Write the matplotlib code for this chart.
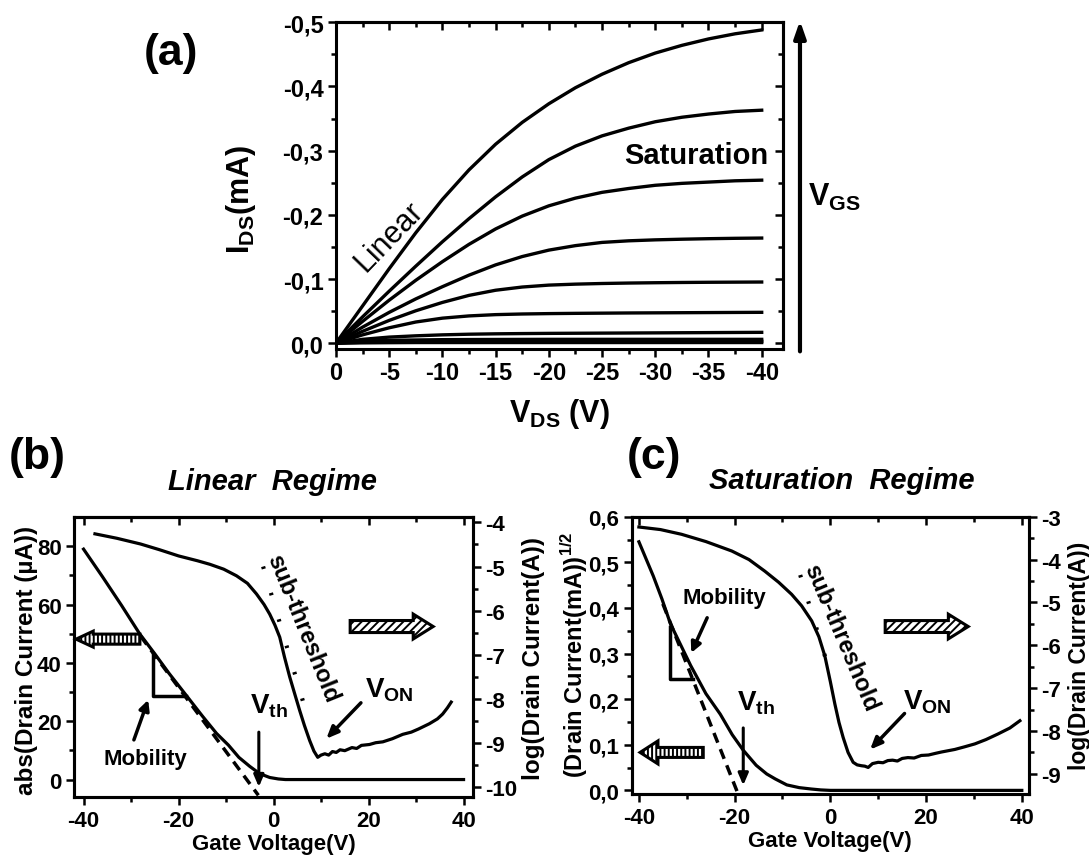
import numpy as np
import matplotlib.pyplot as plt
from matplotlib.patches import FancyArrow

plt.rcParams['font.family'] = ['Liberation Sans', 'DejaVu Sans']
plt.rcParams['font.weight'] = 'bold'
plt.rcParams['axes.labelweight'] = 'bold'
plt.rcParams['mathtext.fontset'] = 'custom'
plt.rcParams['mathtext.rm'] = 'Liberation Sans:bold'
plt.rcParams['mathtext.bf'] = 'Liberation Sans:bold'
plt.rcParams['axes.linewidth'] = 2.2
plt.rcParams['hatch.linewidth'] = 1.4

# (a) output curves, I_DS (mA) against V_DS (V), one list per gate voltage
vds = [0, -2.5, -5, -7.5, -10, -12.5, -15, -17.5, -20, -22.5, -25, -27.5, -30, -32.5, -35, -37.5, -40]
ids_1 = [0, -0.058, -0.116, -0.172, -0.224, -0.270, -0.310, -0.344, -0.373, -0.398, -0.419, -0.437, -0.452, -0.464, -0.474, -0.482, -0.488]
ids_2 = [0, -0.041, -0.081, -0.120, -0.158, -0.194, -0.228, -0.259, -0.286, -0.307, -0.323, -0.335, -0.345, -0.352, -0.357, -0.361, -0.363]
ids_3 = [0, -0.034, -0.067, -0.098, -0.127, -0.154, -0.178, -0.198, -0.214, -0.226, -0.235, -0.241, -0.246, -0.249, -0.251, -0.253, -0.254]
ids_4 = [0, -0.025, -0.048, -0.069, -0.088, -0.106, -0.122, -0.135, -0.145, -0.152, -0.157, -0.1595, -0.161, -0.162, -0.1628, -0.1634, -0.1638]
ids_5 = [0, -0.0185, -0.0355, -0.0505, -0.0635, -0.0745, -0.0825, -0.0875, -0.0905, -0.092, -0.093, -0.0937, -0.0942, -0.0946, -0.0949, -0.0951, -0.0953]
ids_6 = [0, -0.013, -0.024, -0.033, -0.039, -0.0425, -0.0445, -0.0455, -0.0461, -0.0465, -0.0468, -0.0471, -0.0473, -0.0475, -0.0477, -0.0479, -0.0481]
ids_7 = [0, -0.006, -0.0095, -0.0115, -0.013, -0.014, -0.0146, -0.015, -0.0153, -0.0155, -0.0157, -0.0159, -0.0161, -0.0163, -0.0165, -0.0167, -0.0169]
ids_8 = [0, -0.003, -0.0045, -0.005, -0.0055, -0.0057, -0.0058, -0.0059, -0.006, -0.006, -0.006, -0.006, -0.006, -0.006, -0.006, -0.006, -0.006]
ids_9 = [0, -0.0015, -0.0022, -0.0026, -0.0028, -0.0029, -0.003, -0.003, -0.003, -0.003, -0.003, -0.003, -0.003, -0.003, -0.003, -0.003, -0.003]
ids_10 = [0, -0.0005, -0.0008, -0.001, -0.001, -0.001, -0.001, -0.001, -0.001, -0.001, -0.001, -0.001, -0.001, -0.001, -0.001, -0.001, -0.001]

a_xticks = [0, -5, -10, -15, -20, -25, -30, -35, -40]
a_xlabels = ['0', '-5', '-10', '-15', '-20', '-25', '-30', '-35', '-40']
a_yticks = [0, -0.1, -0.2, -0.3, -0.4, -0.5]
a_ylabels = ['0,0', '-0,1', '-0,2', '-0,3', '-0,4', '-0,5']

# (b) linear regime transfer curve
vg_b_lin = [-40, -36, -32, -28.2, -25, -22, -18.3, -15, -12, -9.5, -7.3, -5, -2.9, -0.8, 1, 2.5, 5, 10, 20, 30, 40]
id_b_lin = [79, 69.5, 59.7, 50, 43.1, 36.4, 28.7, 21.8, 15.8, 11.8, 7.6, 4.5, 2.0, 0.7, 0.2, 0, 0, 0, 0, 0, 0]
vg_b_log = [-37.6, -33, -28, -24, -20, -16, -13.4, -10.5, -7.8, -5.5, -3.6, -2, -0.8, 0.3, 1.3, 2.3, 3.4,
            4.5, 5.5, 6.5, 7.6, 8.5, 9.3, 10, 10.8, 11.6, 12.4, 13.2, 14, 15, 16.5, 17.5, 18.5, 20.2,
            21.5, 23, 25, 27.2, 29, 30.5, 32.8, 34.5, 35.6, 36.6, 37.4]
logid_b = [-4.26, -4.36, -4.49, -4.62, -4.76, -4.87, -4.95, -5.06, -5.21, -5.38, -5.62, -5.86, -6.08, -6.33, -6.6, -7.05, -7.5,
           -7.9, -8.26, -8.6, -8.94, -9.18, -9.32, -9.27, -9.24, -9.27, -9.19, -9.21, -9.15, -9.17, -9.1, -9.12, -9.05, -9.03,
           -8.99, -8.97, -8.9, -8.8, -8.75, -8.68, -8.56, -8.45, -8.34, -8.2, -8.07]
b_tangent_v = [-28, -3.2]
b_tangent_i = [49.2, -5.4]
b_sub_v = [-2.2, 6.6]
b_sub_log = [-5.0, -8.2]

# (c) saturation regime transfer curve
vg_c_sqrt = [-40, -37, -35.2, -33.4, -31, -29.2, -26, -23, -20.5, -18.2, -15.5, -13.3, -11.5, -9.1, -6.5, -4, -2, 0, 5, 10, 20, 30, 40]
sqrt_c = [0.545, 0.47, 0.42, 0.365, 0.313, 0.274, 0.212, 0.167, 0.122, 0.088, 0.055, 0.036, 0.025, 0.012, 0.006, 0.003, 0.001, 0, 0, 0, 0, 0, 0]
vg_c_log = [-40, -35.5, -31.1, -26, -20.6, -17, -13.7, -10.8, -8.1, -6, -3.9, -2.4, -1.15, 0, 0.94, 1.8, 2.67, 3.7,
            4.76, 5.6, 6.5, 7.2, 7.9, 8.8, 10, 11, 12, 13, 14, 15, 16.2, 17.5, 19, 20.5, 22, 23.2, 26, 28,
            30.2, 32.5, 35, 37.5, 39.6]
logid_c = [-3.24, -3.3, -3.41, -3.58, -3.8, -4.0, -4.27, -4.53, -4.81, -5.08, -5.43, -5.8, -6.25, -6.85, -7.37, -7.8, -8.15, -8.5,
           -8.73, -8.79, -8.81, -8.82, -8.85, -8.76, -8.73, -8.74, -8.69, -8.68, -8.7, -8.64, -8.62, -8.63, -8.57, -8.56, -8.52, -8.49, -8.43, -8.37,
           -8.3, -8.2, -8.07, -7.93, -7.76]
c_tangent_v = [-35, -19.2]
c_tangent_i = [0.409, -0.010]
c_sub_v = [-6.3, -1.0]
c_sub_log = [-4.36, -6.3]

gate_ticks = [-40, -20, 0, 20, 40]
gate_labels = ['-40', '-20', '0', '20', '40']
b_left_ticks = [0, 20, 40, 60, 80]
b_right_ticks = [-4, -5, -6, -7, -8, -9, -10]
c_left_ticks = [0, 0.1, 0.2, 0.3, 0.4, 0.5, 0.6]
c_left_labels = ['0,0', '0,1', '0,2', '0,3', '0,4', '0,5', '0,6']
c_right_ticks = [-3, -4, -5, -6, -7, -8, -9]


def tick_style(ax, direction='out', size=16):
    ax.tick_params(which='major', direction=direction, length=6, width=1.8, labelsize=size, pad=3)
    ax.tick_params(which='minor', direction=direction, length=3.5, width=1.8)


def mirror_top(ax, major, minor):
    top = ax.secondary_xaxis('top')
    top.set_xticks(major)
    top.set_xticks(minor, minor=True)
    tick_style(top, 'in')
    top.tick_params(which='both', labeltop=False)
    return top


def block_arrow(ax, x0, x1, y, w, hw, hl, hatch):
    ax.add_patch(FancyArrow(x0, y, x1 - x0, 0, width=w, head_width=hw, head_length=hl,
                            length_includes_head=True, transform=ax.transAxes, facecolor='white',
                            edgecolor='k', hatch=hatch, lw=2.2, zorder=6, clip_on=False))


fig = plt.figure(figsize=(10.89, 8.62), dpi=100)

# ---------------- (a)
ax_a = fig.add_axes([0.3085, 0.594, 0.4105, 0.3794])
for ids in [ids_1, ids_2, ids_3, ids_4, ids_5, ids_6, ids_7, ids_8, ids_9, ids_10]:
    ax_a.plot(vds, ids, color='k', lw=2.4)
ax_a.set_xlim(0, -42)
ax_a.set_ylim(0.009, -0.5005)
ax_a.set_xticks(a_xticks, a_xlabels)
ax_a.set_xticks(np.arange(-2.5, -42, -5), minor=True)
ax_a.set_yticks(a_yticks, a_ylabels)
ax_a.set_yticks(np.arange(-0.05, -0.5, -0.1), minor=True)
tick_style(ax_a, size=17)
mirror_top(ax_a, a_xticks, np.arange(-2.5, -42, -5))
right_a = ax_a.secondary_yaxis('right')
right_a.set_yticks(a_yticks)
right_a.set_yticks(np.arange(-0.05, -0.5, -0.1), minor=True)
tick_style(right_a, 'in')
right_a.tick_params(which='both', labelright=False)
ax_a.set_xlabel(r'$\mathbf{V}_{\mathbf{DS}}$ (V)', fontsize=22, labelpad=8)
ax_a.set_ylabel(r'$\mathbf{I}_{\mathbf{DS}}$(mA)', fontsize=22)
ax_a.yaxis.set_label_coords(-0.175, 0.46)
ax_a.text(0.118, 0.345, 'Linear', transform=ax_a.transAxes, fontsize=22, fontweight='normal',
          rotation=46, ha='center', va='center')
ax_a.text(0.807, 0.594, 'Saturation', transform=ax_a.transAxes, fontsize=21,
          ha='center', va='center')
fig.text(0.1566, 0.9374, '(a)', fontsize=32, ha='center', va='center')
ax_a.annotate('', xy=(0.7346, 0.978), xytext=(0.7346, 0.588), xycoords='figure fraction',
              textcoords='figure fraction', annotation_clip=False,
              arrowprops=dict(arrowstyle='-|>,head_length=1.0,head_width=0.35', lw=3, color='k'))
fig.text(0.742, 0.7715, r'$\mathbf{V}_{\mathbf{GS}}$', fontsize=22, ha='left', va='center')

# ---------------- (b)
ax_b = fig.add_axes([0.068, 0.0742, 0.3664, 0.3248])
ax_b.plot(vg_b_lin, id_b_lin, color='k', lw=2.3)
ax_b.plot(b_tangent_v, b_tangent_i, color='k', lw=2.5, ls=(0, (3, 2)))
ax_b.set_xlim(-42, 42)
ax_b.set_ylim(-6, 90)
ax_b.set_xticks(gate_ticks, gate_labels)
ax_b.set_xticks([-30, -10, 10, 30], minor=True)
ax_b.set_yticks(b_left_ticks)
ax_b.set_yticks([10, 30, 50, 70], minor=True)
tick_style(ax_b)
mirror_top(ax_b, gate_ticks, [-30, -10, 10, 30])
ax_b.set_xlabel('Gate Voltage(V)', fontsize=16, labelpad=2)
ax_b.set_ylabel('abs(Drain Current (\u00b5A))', fontsize=17.5)
ax_b.yaxis.set_label_coords(-0.09, 0.49)
ax_b2 = ax_b.twinx()
ax_b2.plot(vg_b_log, logid_b, color='k', lw=2.3)
ax_b2.plot(b_sub_v, b_sub_log, color='k', lw=3, ls=(0, (0.6, 6)))
ax_b2.set_ylim(-10.22, -3.88)
ax_b2.set_yticks(b_right_ticks, [str(t) for t in b_right_ticks])
ax_b2.set_yticks(np.arange(-4.5, -10.2, -1), minor=True)
tick_style(ax_b2)
ax_b2.set_ylabel('log(Drain Current(A))', fontsize=17.5, labelpad=3)

# triangle, arrows and labels
ax_b.plot([-25.4, -25.4, -18.4], [43, 28.7, 28.7], color='k', lw=2.5)
ax_b.annotate('', xy=(-26.2, 28.2), xytext=(-29.6, 12.7),
              arrowprops=dict(arrowstyle='-|>,head_length=0.6,head_width=0.3', lw=2.5, color='k'))
ax_b.text(0.18, 0.136, 'Mobility', transform=ax_b.transAxes, fontsize=16, ha='center', va='center')
ax_b.annotate('', xy=(-3.1, -3.5), xytext=(-3.1, 17.2),
              arrowprops=dict(arrowstyle='-|>,head_length=0.7,head_width=0.3', lw=2.2, color='k'))
ax_b.text(0.441, 0.329, r'$\mathbf{V}_{\mathbf{th}}$', transform=ax_b.transAxes, fontsize=20, ha='left', va='center')
ax_b.annotate('', xy=(10.7, 13.3), xytext=(18.8, 27.0),
              arrowprops=dict(arrowstyle='-|>,head_length=0.7,head_width=0.3', lw=2.5, color='k'))
ax_b.text(0.729, 0.386, r'$\mathbf{V}_{\mathbf{ON}}$', transform=ax_b.transAxes, fontsize=20, ha='left', va='center')
ax_b.text(0.574, 0.606, 'sub-threshold', transform=ax_b.transAxes, fontsize=17,
          rotation=-68, ha='center', va='center')
block_arrow(ax_b2, 0.165, 0.005, 0.564, 0.036, 0.057, 0.043, '||||')
block_arrow(ax_b2, 0.692, 0.90, 0.609, 0.043, 0.089, 0.05, '////')
fig.text(0.034, 0.4698, '(b)', fontsize=32, ha='center', va='center')
fig.text(0.2498, 0.4408, 'Linear  Regime', fontsize=21, style='italic', ha='center', va='center')

# ---------------- (c)
ax_c = fig.add_axes([0.5801, 0.0777, 0.3648, 0.3217])
ax_c.plot(vg_c_sqrt, sqrt_c, color='k', lw=2.3)
ax_c.plot(c_tangent_v, c_tangent_i, color='k', lw=2.5, ls=(0, (3, 2)))
ax_c.set_xlim(-41.5, 41.5)
ax_c.set_ylim(-0.008, 0.6)
ax_c.set_xticks(gate_ticks, gate_labels)
ax_c.set_xticks([-30, -10, 10, 30], minor=True)
ax_c.set_yticks(c_left_ticks, c_left_labels)
ax_c.set_yticks(np.arange(0.05, 0.6, 0.1), minor=True)
tick_style(ax_c)
mirror_top(ax_c, gate_ticks, [-30, -10, 10, 30])
ax_c.set_xlabel('Gate Voltage(V)', fontsize=16, labelpad=2)
ax_c.set_ylabel(r'(Drain Current(mA))$^{1/2}$', fontsize=17)
ax_c.yaxis.set_label_coords(-0.105, 0.505)
ax_c2 = ax_c.twinx()
ax_c2.plot(vg_c_log, logid_c, color='k', lw=2.3)
ax_c2.plot(c_sub_v, c_sub_log, color='k', lw=3, ls=(0, (0.6, 6)))
ax_c2.set_ylim(-9.47, -3)
ax_c2.set_yticks(c_right_ticks, [str(t) for t in c_right_ticks])
ax_c2.set_yticks(np.arange(-3.5, -9.4, -1), minor=True)
tick_style(ax_c2)
ax_c2.set_ylabel('log(Drain Current(A))', fontsize=16.5)
ax_c2.yaxis.set_label_coords(1.097, 0.5)

ax_c.plot([-33.6, -33.6, -28.6], [0.358, 0.245, 0.245], color='k', lw=2.5)
ax_c.annotate('', xy=(-29.3, 0.296), xytext=(-25.5, 0.384),
              arrowprops=dict(arrowstyle='-|>,head_length=0.6,head_width=0.3', lw=2.5, color='k'))
ax_c.text(0.2336, 0.71, 'Mobility', transform=ax_c.transAxes, fontsize=16, ha='center', va='center')
ax_c.annotate('', xy=(-18.2, 0.005), xytext=(-18.2, 0.143),
              arrowprops=dict(arrowstyle='-|>,head_length=0.7,head_width=0.3', lw=2.2, color='k'))
ax_c.text(0.265, 0.332, r'$\mathbf{V}_{\mathbf{th}}$', transform=ax_c.transAxes, fontsize=20, ha='left', va='center')
ax_c.annotate('', xy=(7.9, 0.085), xytext=(15.9, 0.173),
              arrowprops=dict(arrowstyle='-|>,head_length=0.7,head_width=0.3', lw=2.5, color='k'))
ax_c.text(0.684, 0.334, r'$\mathbf{V}_{\mathbf{ON}}$', transform=ax_c.transAxes, fontsize=20, ha='left', va='center')
ax_c.text(0.527, 0.565, 'sub-threshold', transform=ax_c.transAxes, fontsize=17,
          rotation=-67, ha='center', va='center')
block_arrow(ax_c2, 0.18, 0.021, 0.150, 0.036, 0.083, 0.045, '||||')
block_arrow(ax_c2, 0.638, 0.847, 0.604, 0.043, 0.089, 0.05, '////')
fig.text(0.6006, 0.4698, '(c)', fontsize=32, ha='center', va='center')
fig.text(0.7732, 0.4420, 'Saturation  Regime', fontsize=21, style='italic', ha='center', va='center')

fig.savefig('out.png', dpi=100)
